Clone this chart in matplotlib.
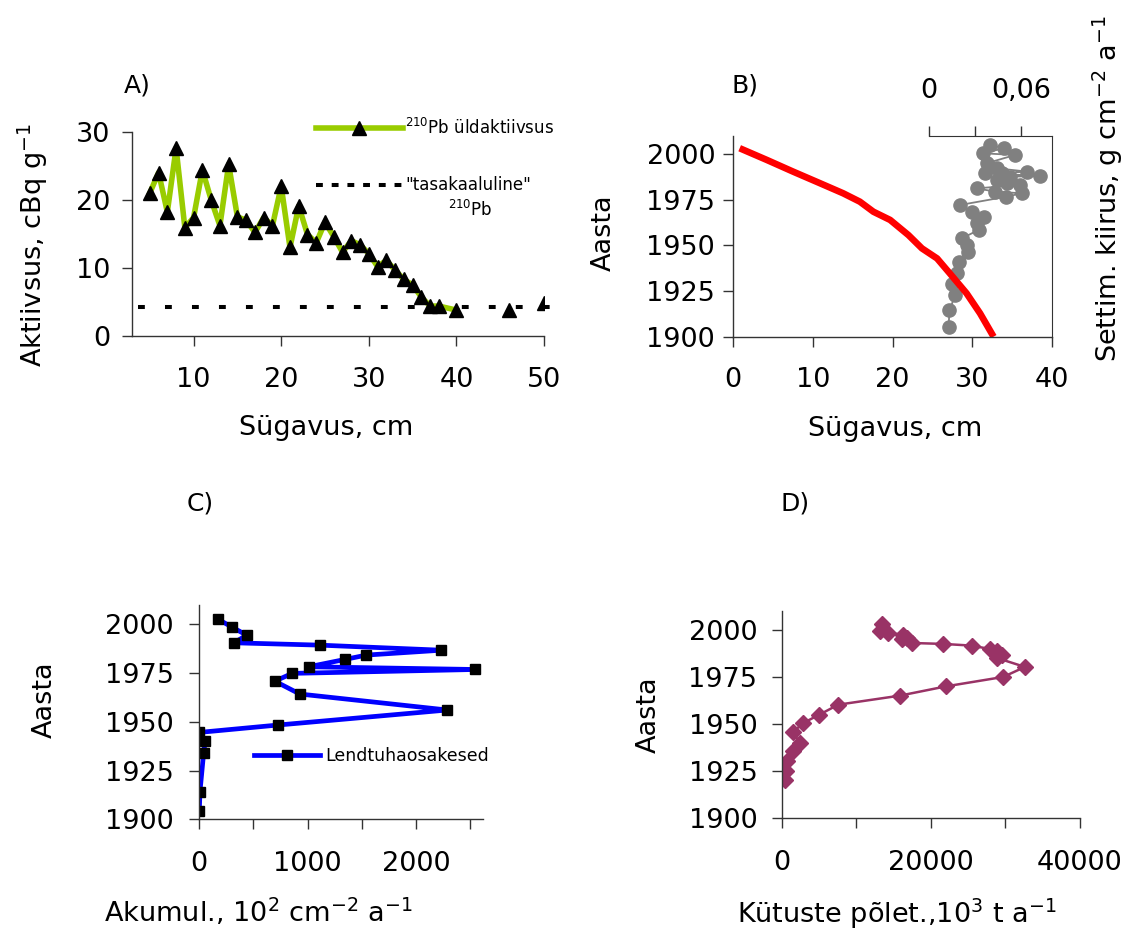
import matplotlib
matplotlib.use("Agg")
import matplotlib.pyplot as plt
from matplotlib.lines import Line2D

plt.rcParams['font.family'] = ['DejaVu Sans']
plt.rcParams['mathtext.default'] = 'regular'

# ── A) 210Pb aktiivsus ───────────────────────────────────────────────────────
depth_a = [5, 6, 7, 8, 9, 10, 11, 12, 13, 14, 15, 16, 17, 18, 19, 20, 21, 22,
           23, 24, 25, 26, 27, 28, 29, 30, 31, 32, 33, 34, 35, 36, 37, 38, 40]
pb_a = [21.0, 24.0, 18.2, 27.6, 15.9, 17.4, 24.4, 20.0, 16.2, 25.2, 17.5, 17.0,
        15.2, 17.4, 16.2, 22.0, 13.0, 19.1, 14.9, 13.7, 16.7, 14.6, 12.3, 14.0,
        13.4, 12.1, 10.2, 11.1, 9.7, 8.3, 7.5, 5.7, 4.4, 4.4, 3.8]
depth_a_extra = [46, 50]
pb_a_extra = [3.8, 4.9]
pb_equil = 4.3
equil_span = [3.7, 50.8]

# ── B) vanusemudel + settimiskiirus ──────────────────────────────────────────
depth_b = [0.8, 4.2, 7.5, 10.9, 13.8, 15.9, 17.6, 19.7, 22.0, 23.7, 25.6,
           27.2, 29.3, 31.0, 32.7]
year_b = [2003.3, 1996.9, 1990.5, 1984.1, 1978.6, 1974.0, 1968.5, 1964.0,
          1955.7, 1948.4, 1942.9, 1934.7, 1923.8, 1912.8, 1900.0]
sed_year = [2005.1, 2003.3, 2000.5, 1999.6, 1995.1, 1992.3, 1990.5, 1989.6,
            1989.6, 1988.1, 1987.7, 1985.9, 1984.1, 1983.2, 1981.3, 1979.5,
            1978.6, 1976.7, 1972.2, 1968.5, 1965.8, 1962.2, 1958.5, 1953.9,
            1950.2, 1946.6, 1941.1, 1935.0, 1928.9, 1922.8, 1914.6, 1905.4]
sed_rate = [0.0398, 0.0485, 0.0354, 0.0561, 0.0376, 0.0441, 0.0637, 0.0474,
            0.0365, 0.0724, 0.0528, 0.0441, 0.0506, 0.0593, 0.0311, 0.0430,
            0.0604, 0.0502, 0.0202, 0.0278, 0.0357, 0.0311, 0.0322, 0.0213,
            0.0246, 0.0256, 0.0191, 0.0180, 0.0148, 0.0170, 0.0132, 0.0126]

# ── C) lendtuhaosakesed ──────────────────────────────────────────────────────
ash_acc = [178, 300, 439, 322, 1113, 2233, 1543, 1349, 1012, 2546, 859, 699,
           929, 2288, 730, 3, 58, 43, 9, 3]
ash_year = [2002.6, 1998.8, 1994.5, 1990.6, 1989.4, 1986.8, 1984.3, 1982.1,
            1978.3, 1976.9, 1974.9, 1970.9, 1964.3, 1956.1, 1948.4, 1944.6,
            1940.2, 1934.2, 1914.2, 1904.4]

# ── D) kütuste põletamine ────────────────────────────────────────────────────
fuel = [13405, 13177, 14290, 16300, 16756, 16086, 17426, 21662, 25469, 27922,
        28820, 29491, 28820, 32614, 29705, 22024, 15858, 7587, 5040, 2895,
        1475, 2453, 1555, 670, 576, 442]
fuel_year = [2002.7, 1999.1, 1998.2, 1997.3, 1995.6, 1995.1, 1992.9, 1992.4,
             1991.5, 1989.7, 1988.5, 1986.7, 1985.0, 1980.2, 1974.9, 1969.9,
             1965.0, 1960.2, 1954.9, 1950.5, 1945.5, 1940.1, 1935.4, 1930.1,
             1925.1, 1920.3]

YEAR_TICKS = [1900, 1925, 1950, 1975, 2000]

W, H = 1127, 934
FS = 19.5
AX_COL = '#333333'


def rect(l, r, b, t):
    return [l / W, 1 - b / H, (r - l) / W, (b - t) / H]


def style(ax, xpad, ypad):
    for s in ['top', 'right']:
        ax.spines[s].set_visible(False)
    for s in ['left', 'bottom']:
        ax.spines[s].set_color(AX_COL)
        ax.spines[s].set_linewidth(1.0)
    ax.tick_params(direction='out', length=7, width=1, color=AX_COL,
                   labelsize=FS)
    ax.tick_params(axis='x', pad=xpad)
    ax.tick_params(axis='y', pad=ypad)


fig = plt.figure(figsize=(W / 100, H / 100), dpi=100)

# ── A ────────────────────────────────────────────────────────────────────────
ax_a = fig.add_axes(rect(132.3, 544, 336, 131.7))
style(ax_a, 15, 9)
ax_a.plot(depth_a, pb_a, color='#99CC00', lw=4.0, zorder=2)
ax_a.plot(depth_a + depth_a_extra, pb_a + pb_a_extra, ls='none', marker='^',
          ms=9.5, color='black', zorder=3)
ax_a.plot(equil_span, [pb_equil, pb_equil], color='black', lw=2.9,
          ls=(0, (1.7, 5)), clip_on=False, zorder=1)
ax_a.set_xlim(3, 50)
ax_a.set_ylim(0, 30)
ax_a.set_xticks([10, 20, 30, 40, 50])
ax_a.set_yticks([0, 10, 20, 30])
ax_a.set_xlabel("Sügavus, cm", fontsize=FS)
ax_a.set_ylabel("Aktiivsus, cBq g$^{-1}$", fontsize=FS)
ax_a.xaxis.set_label_coords(0.47, -0.385)
ax_a.yaxis.set_label_coords(-0.20, 0.445)

h_green = Line2D([], [], color='#99CC00', lw=4.0, marker='^', ms=9.5,
                 mfc='black', mec='black')
h_dash = Line2D([], [], color='black', lw=2.9, ls=(0, (1.7, 2.2)))
leg = ax_a.legend([h_green, h_dash],
                  ['$^{210}$Pb üldaktiivsus', '"tasakaaluline"'],
                  loc='upper left', bbox_to_anchor=(0.43, 1.1),
                  frameon=False, fontsize=12, handlelength=5.2,
                  handletextpad=0.15, labelspacing=2.3, borderaxespad=0)
ax_a.text(0.82, 0.615, '$^{210}$Pb', transform=ax_a.transAxes,
          fontsize=12, ha='center', va='center')

# ── B ────────────────────────────────────────────────────────────────────────
ax_b = fig.add_axes(rect(733.3, 1051.7, 336.7, 136))
style(ax_b, 15, 6)
ax_b.plot(depth_b, year_b, color='#FF0000', lw=4.8, solid_capstyle='butt')
ax_b.set_xlim(0, 40)
ax_b.set_ylim(1900, 2010)
ax_b.set_xticks([0, 10, 20, 30, 40])
ax_b.set_yticks(YEAR_TICKS)
ax_b.set_xlabel("Sügavus, cm", fontsize=FS)
ax_b.set_ylabel("Aasta", fontsize=FS)
ax_b.xaxis.set_label_coords(0.508, -0.395)
ax_b.yaxis.set_label_coords(-0.366, 0.517)
ax_b.patch.set_visible(False)
ax_b.set_zorder(2)

ax_s = fig.add_axes(rect(929.3, 1051.7, 336.7, 136))
ax_s.set_zorder(1)
ax_s.plot(sed_rate, sed_year, color='#808080', lw=1.3, marker='o', ms=9.5)
ax_s.set_xlim(0, 0.08)
ax_s.set_ylim(1900, 2010)
for s in ['left', 'bottom']:
    ax_s.spines[s].set_visible(False)
for s in ['top', 'right']:
    ax_s.spines[s].set_color(AX_COL)
ax_s.xaxis.tick_top()
ax_s.set_xticks([0, 0.03, 0.06])
ax_s.set_xticklabels(['0', '', '0,06'])
ax_s.set_yticks([])
ax_s.tick_params(axis='x', direction='out', length=7, width=1, color=AX_COL,
                 labelsize=FS, pad=16)
ax_s.yaxis.set_label_position('right')
ax_s.set_ylabel("Settim. kiirus, g cm$^{-2}$ a$^{-1}$", fontsize=FS)
ax_s.yaxis.set_label_coords(1.32, 0.74)

# ── C ────────────────────────────────────────────────────────────────────────
ax_c = fig.add_axes(rect(199, 483.3, 819.3, 605))
style(ax_c, 16, 11)
ax_c.plot(ash_acc, ash_year, color='#0000FF', lw=3.4, marker='s', ms=7,
          mfc='black', mec='black', label='Lendtuhaosakesed')
ax_c.set_xlim(0, 2620)
ax_c.set_ylim(1900, 2010)
ax_c.set_xticks([0, 500, 1000, 1500, 2000, 2500])
ax_c.set_xticklabels(['0', '', '1000', '', '2000', ''])
ax_c.set_yticks(YEAR_TICKS)
ax_c.set_xlabel("Akumul., 10$^{2}$ cm$^{-2}$ a$^{-1}$", fontsize=FS)
ax_c.set_ylabel("Aasta", fontsize=FS)
ax_c.xaxis.set_label_coords(0.21, -0.36)
ax_c.yaxis.set_label_coords(-0.496, 0.557)
ax_c.legend(loc='upper left', bbox_to_anchor=(0.17, 0.37), frameon=False,
            fontsize=12.5, handlelength=3.8, handletextpad=0.3,
            borderaxespad=0)

# ── D ────────────────────────────────────────────────────────────────────────
ax_d = fig.add_axes(rect(781.7, 1080, 818.3, 610.7))
style(ax_d, 16, 10.5)
ax_d.plot(fuel, fuel_year, color='#993366', lw=1.8, marker='D', ms=8)
ax_d.set_xlim(0, 40000)
ax_d.set_ylim(1900, 2010)
ax_d.set_xticks([0, 10000, 20000, 30000, 40000])
ax_d.set_xticklabels(['0', '', '20000', '', '40000'])
ax_d.set_yticks(YEAR_TICKS)
ax_d.set_xlabel("Kütuste põlet.,10$^{3}$ t a$^{-1}$", fontsize=FS)
ax_d.set_ylabel("Aasta", fontsize=FS)
ax_d.xaxis.set_label_coords(0.387, -0.375)
ax_d.yaxis.set_label_coords(-0.401, 0.497)

# ── Paneelide tähised ────────────────────────────────────────────────────────
for lab, x, y in [('A)', 137, 85), ('B)', 745, 85), ('C)', 200, 503),
                  ('D)', 795, 503)]:
    fig.text(x / W, 1 - y / H, lab, fontsize=18, ha='center', va='center')

fig.savefig('out.png', dpi=100)
